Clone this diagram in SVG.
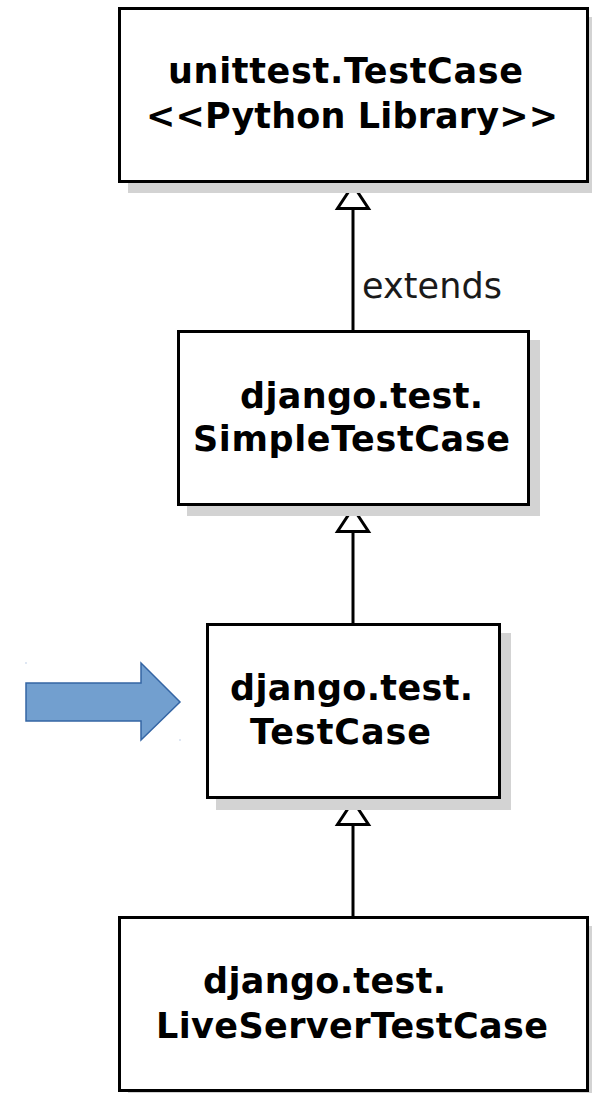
<svg xmlns="http://www.w3.org/2000/svg" width="592" height="1093" viewBox="0 0 592 1093">
  <style>
    .shadow { fill: #d3d3d3; }
    .box { fill: #ffffff; stroke: #000000; stroke-width: 3; }
    .label { font-family: "DejaVu Sans", Verdana, sans-serif; font-size: 35px; font-weight: bold; fill: #000000; }
    .edge-label { font-family: "DejaVu Sans", Verdana, sans-serif; font-size: 35px; fill: #1a1a1a; }
    .line { stroke: #000000; stroke-width: 3; fill: none; }
    .head { fill: #ffffff; stroke: #000000; stroke-width: 3; stroke-linejoin: miter; }
  </style>
  <rect width="592" height="1093" fill="#ffffff"/>

  <!-- pointer arrow -->
  <g id="pointer">
    <polygon points="26,683 141,683 141,663 180,702 141,740 141,721 26,721" fill="#729fcf" stroke="#3465a4" stroke-width="1.5"/>
    <rect x="25.5" y="662.5" width="1" height="1" fill="#7f9fcf"/>
    <rect x="179.5" y="739.5" width="1" height="1" fill="#7f9fcf"/>
  </g>

  <!-- generalization connectors -->
  <g id="connectors">
    <line class="line" x1="353" y1="209" x2="353" y2="330"/>
    <polygon class="head" points="353,185 337.5,208.5 368.5,208.5"/>
    <text class="edge-label" x="362" y="298" textLength="140">extends</text>

    <line class="line" x1="353" y1="532" x2="353" y2="623"/>
    <polygon class="head" points="353,508 337.5,531.5 368.5,531.5"/>

    <line class="line" x1="353" y1="825" x2="353" y2="916"/>
    <polygon class="head" points="353,801 337.5,824.5 368.5,824.5"/>
  </g>

  <g id="unittest-testcase">
    <rect class="shadow" x="128" y="17" width="471" height="176"/>
    <rect class="box" x="119.5" y="8.5" width="468" height="173"/>
    <text class="label" x="168" y="83" textLength="355">unittest.TestCase</text>
    <text class="label" x="146" y="128" textLength="412">&lt;&lt;Python Library&gt;&gt;</text>
  </g>

  <g id="simple-testcase">
    <rect class="shadow" x="187" y="340" width="353" height="176"/>
    <rect class="box" x="178.5" y="331.5" width="350" height="173"/>
    <text class="label" x="240" y="408" textLength="243">django.test.</text>
    <text class="label" x="193" y="451" textLength="317">SimpleTestCase</text>
  </g>

  <g id="testcase">
    <rect class="shadow" x="216" y="633" width="295" height="177"/>
    <rect class="box" x="207.5" y="624.5" width="292" height="173"/>
    <text class="label" x="230" y="700" textLength="243">django.test.</text>
    <text class="label" x="250" y="744" textLength="181">TestCase</text>
  </g>

  <g id="liveserver-testcase">
    <rect class="shadow" x="128" y="926" width="471" height="176"/>
    <rect class="box" x="119.5" y="917.5" width="468" height="173"/>
    <text class="label" x="203" y="993" textLength="243">django.test.</text>
    <text class="label" x="156" y="1038" textLength="392">LiveServerTestCase</text>
  </g>
</svg>
